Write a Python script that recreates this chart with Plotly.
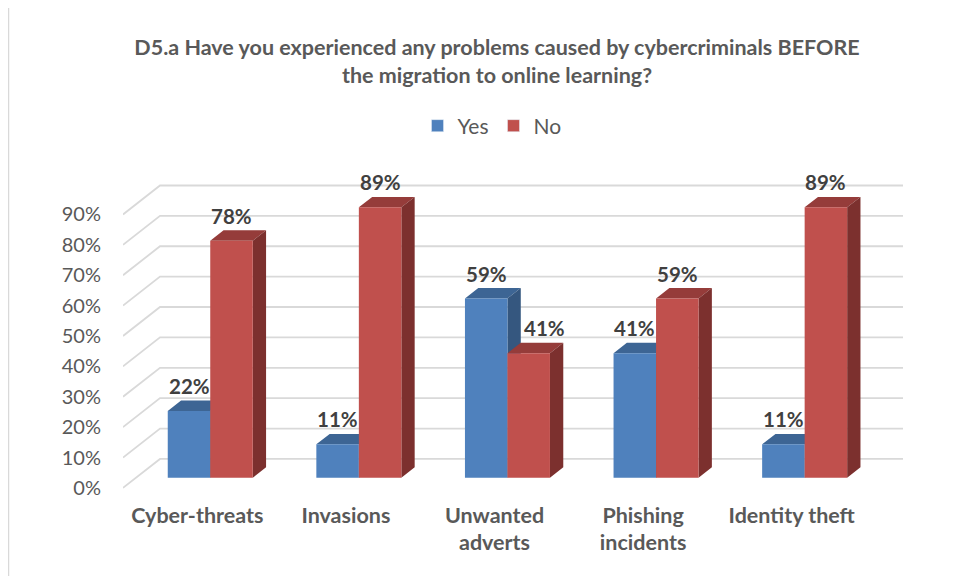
import plotly.graph_objects as go

# ---- data ----
categories = ["Cyber-threats", "Invasions", "Unwanted<br>adverts", "Phishing<br>incidents", "Identity theft"]
yes_values = [22, 11, 59, 41, 11]
no_values = [78, 89, 41, 59, 89]
series_names = ["Yes", "No"]
y_ticks = [0, 10, 20, 30, 40, 50, 60, 70, 80, 90]

# ---- style / geometry (page body adds an 8px offset) ----
OFF = 8
W, H = 956 - OFF, 576 - OFF
ML, MR, MT, MB = 123 - OFF, 53, 170 - OFF, 87
X_RANGE = [-0.749, 4.5]
Y_RANGE = [-9.9, 95.1]
DX, DY = -0.249, -9.54          # full depth offset (back wall -> front edge) in data units
S_FRONT, S_BACK = 0.65, 0.29    # bar front / back depth position
BAR_W = 0.286
GRID = "#D9D9D9"
TXT = "#595959"
FONT = "Lato"

colors = {
    "Yes": {"front": "#4F81BD", "top": "#3D6594", "side": "#35577F"},
    "No": {"front": "#C0504D", "top": "#953C3A", "side": "#7C302E"},
}

fig = go.Figure()

# gridlines (back wall + left side wall)
gx, gy = [], []
for v in y_ticks:
    gx += [X_RANGE[0], -0.5, 4.5, None]
    gy += [v + DY, v, v, None]
fig.add_trace(go.Scatter(x=gx, y=gy, mode="lines", line=dict(color=GRID, width=1.8),
                         hoverinfo="skip", showlegend=False))

ox, oy = S_FRONT * DX, S_FRONT * DY
bx, by = S_BACK * DX, S_BACK * DY

annotations = []
for name, vals, side in [("Yes", yes_values, -1), ("No", no_values, 1)]:
    top_x, top_y, side_x, side_y, fr_x, fr_y = [], [], [], [], [], []
    for i, v in enumerate(vals):
        if side < 0:
            xl, xr = i - BAR_W, i
            shift = 0
        else:
            xl, xr = i, i + BAR_W
            # label nudged right when the taller neighbouring bar would collide with it
            shift = 16 if yes_values[i] > v else 0
        top_x += [xl + ox, xr + ox, xr + bx, xl + bx, xl + ox, None]
        top_y += [v + oy, v + oy, v + by, v + by, v + oy, None]
        side_x += [xr + ox, xr + bx, xr + bx, xr + ox, xr + ox, None]
        side_y += [oy, by, v + by, v + oy, oy, None]
        fr_x += [xl + ox, xr + ox, xr + ox, xl + ox, xl + ox, None]
        fr_y += [oy, oy, v + oy, v + oy, oy, None]
        annotations.append(dict(x=(xl + xr) / 2 + ox, y=v + oy, xref="x", yref="y",
                                text=f"<b>{v}%</b>", showarrow=False, yshift=25, xshift=shift,
                                font=dict(family=FONT, size=20.5, color="#404040")))
    c = colors[name]
    for xs, ys, col in [(top_x, top_y, c["top"]), (side_x, side_y, c["side"]), (fr_x, fr_y, c["front"])]:
        fig.add_trace(go.Scatter(x=xs, y=ys, mode="lines", fill="toself", fillcolor=col,
                                 line=dict(width=0, color=col), hoverinfo="skip", showlegend=False))

# legend entries
for name in series_names:
    fig.add_trace(go.Bar(x=[None], y=[None], name=name, marker_color=colors[name]["front"]))

# chart border
pw, ph = W - ML - MR, H - MT - MB
def px_x(p): return (p - OFF - ML) / pw
def px_y(p): return (H - MB - (p - OFF)) / ph
shapes = [dict(type="rect", xref="paper", yref="paper",
               x0=px_x(8.5), x1=px_x(951), y0=px_y(600), y1=px_y(5.5),
               line=dict(color=GRID, width=1.5), fillcolor="rgba(0,0,0,0)", layer="below")]

fig.update_layout(
    width=W, height=H,
    margin=dict(l=ML, r=MR, t=MT, b=MB),
    paper_bgcolor="white", plot_bgcolor="white",
    font=dict(family=FONT, color=TXT),
    title=dict(text="<b>D5.a Have you experienced any problems caused by cybercriminals BEFORE<br>the migration to online learning?</b>",
               x=(497 - OFF) / W, xanchor="center", xref="container",
               y=1 - (55 - OFF) / H, yanchor="top", yref="container",
               font=dict(family=FONT, size=21.5, color=TXT)),
    legend=dict(orientation="h", x=(492 - OFF) / W, xanchor="center", xref="container",
                y=1 - (126 - OFF) / H, yanchor="middle", yref="container",
                font=dict(family=FONT, size=21, color=TXT), itemwidth=30),
    barmode="overlay",
    annotations=annotations,
    shapes=shapes,
    showlegend=True,
)
fig.update_xaxes(range=X_RANGE, showgrid=False, zeroline=False, showline=False,
                 tickmode="array", tickvals=[i + DX for i in range(len(categories))],
                 ticktext=[f"<b>{c}</b>" for c in categories], ticks="",
                 tickfont=dict(family=FONT, size=21.5, color=TXT), ticklabelstandoff=11)
fig.update_yaxes(range=Y_RANGE, showgrid=False, zeroline=False, showline=False,
                 tickmode="array", tickvals=[v + DY for v in y_ticks],
                 ticktext=[f"{v}%" for v in y_ticks], ticks="",
                 tickfont=dict(family=FONT, size=20, color=TXT), ticklabelstandoff=21)

fig.write_html("out.html")
